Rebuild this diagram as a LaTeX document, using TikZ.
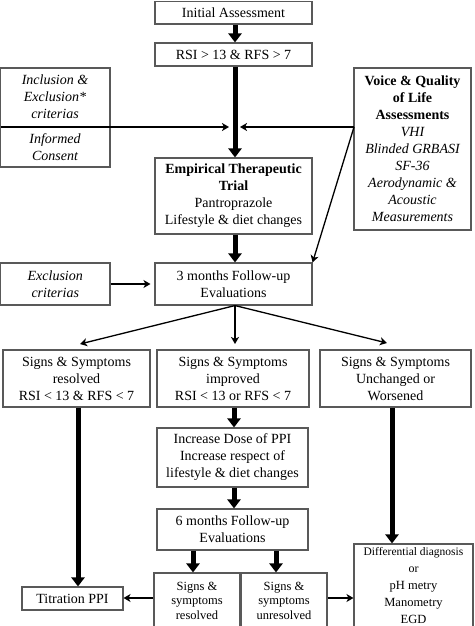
\documentclass[tikz,border=0pt]{standalone}
\usepackage{fontspec}
\setmainfont{Liberation Serif}
\usetikzlibrary{arrows.meta}
\begin{document}
\begin{tikzpicture}[x=1pt,y=-1pt,
  box/.style={draw=black!65, line width=1.1pt, fill=white, inner sep=0pt, align=center,
    font=\fontsize{14}{17}\selectfont},
  txt/.style={inner sep=0pt, align=center, font=\fontsize{14}{17}\selectfont},
  small/.style={font=\fontsize{12.5}{14.6}\selectfont},
  thick arrow/.style={line width=5pt, -{Triangle[width=13pt,length=9pt]}},
  thin arrow/.style={line width=1.3pt, -{Stealth[width=8pt,length=7pt,inset=2pt]}}]
\useasboundingbox (0,0) rectangle (474,626);
\fill[white] (0,0) rectangle (474,626);
\begin{scope}
\clip (0,0) rectangle (474,626);
% boxes
\node[box, minimum width=157pt, minimum height=22.5pt] (init) at (233.5,12.75) {Initial Assessment};
\node[box, minimum width=157pt, minimum height=23pt] (rsi) at (233.5,54.5) {RSI > 13 \& RFS > 7};
\node[box, minimum width=109.5pt, minimum height=99pt] (incl) at (55.25,117.5) {};
\node[txt] (incltxt) at (55,97) {\itshape Inclusion \&\\\itshape Exclusion*\\\itshape criterias};
\node[txt] (inftxt) at (55,147) {\itshape Informed\\\itshape Consent};
\node[box, minimum width=117pt, minimum height=162pt] (voice) at (412.5,149) {\bfseries Voice \& Quality\\\bfseries of Life\\\bfseries Assessments\\\itshape VHI\\\itshape Blinded GRBASI\\\itshape SF-36\\\itshape Aerodynamic \&\\\itshape Acoustic\\\itshape Measurements};
\node[box, minimum width=157pt, minimum height=76pt] (emp) at (233.5,196) {\bfseries Empirical Therapeutic\\\bfseries Trial\\Pantroprazole\\Lifestyle \& diet changes};
\node[box, minimum width=157pt, minimum height=42pt] (three) at (233.5,284) {3 months Follow-up\\Evaluations};
\node[box, minimum width=109.5pt, minimum height=42pt] (excl) at (55.25,284) {\itshape Exclusion\\\itshape criterias};
\node[box, minimum width=147pt, minimum height=57pt] (res) at (76.5,378.5) {Signs \& Symptoms\\resolved\\RSI < 13 \& RFS < 7};
\node[box, minimum width=152pt, minimum height=57pt] (imp) at (233,378.5) {Signs \& Symptoms\\improved\\RSI < 13 or RFS < 7};
\node[box, minimum width=151pt, minimum height=57pt] (unch) at (395.5,378.5) {Signs \& Symptoms\\Unchanged or\\Worsened};
\node[box, minimum width=151pt, minimum height=59pt] (inc) at (232.5,457.5) {Increase Dose of PPI\\Increase respect of\\lifestyle \& diet changes};
\node[box, minimum width=151pt, minimum height=41pt] (six) at (232.5,529.5) {6 months Follow-up\\Evaluations};
\node[box, small, minimum width=86pt, minimum height=55pt] (res2) at (197,600.5) {Signs \&\\symptoms\\resolved};
\node[box, small, minimum width=86pt, minimum height=55pt] (unres) at (284,600.5) {Signs \&\\symptoms\\unresolved};
\node[box, minimum width=119pt, minimum height=84pt] (diff) at (413.5,586) {{\fontsize{11.5}{14.6}\selectfont Differential diagnosis}\\{\fontsize{12}{14.6}\selectfont or}\\{\fontsize{12.5}{14.6}\selectfont pH metry}\\{\fontsize{12.5}{14.6}\selectfont Manometry}\\{\fontsize{12.5}{14.6}\selectfont EGD}};
\node[box, minimum width=101pt, minimum height=23pt] (titr) at (72.5,598.5) {Titration PPI};
% coordinates
\coordinate (inclsplit) at (0.6,127);
\coordinate (mergeL) at (229,127);
\coordinate (vsplit) at (354,127);
\coordinate (mergeR) at (240,127);
\coordinate (tres) at (80,344);
\coordinate (timp) at (235,344);
\coordinate (tunch) at (387,343);
% connectors
\draw[thick arrow] (init.south -| 235,0) -- (rsi.north -| 235,0);
\draw[thick arrow] (rsi.south -| 235,0) -- (emp.north -| 235,0);
\draw[thick arrow] (emp.south -| 235,0) -- (three.north -| 235,0);
\draw[line width=1.3pt] (inclsplit) -- (incl.east |- inclsplit);
\draw[thin arrow] (incl.east |- inclsplit) -- (mergeL);
\draw[thin arrow] (vsplit) -- (mergeR);
\draw[thin arrow] (vsplit) -- (three.north east);
\draw[thin arrow, shorten >=4pt] (excl) -- (three);
\draw[thin arrow] (three.south -| 235,0) -- (tres);
\draw[thin arrow] (three.south -| 235,0) -- (timp);
\draw[thin arrow] (three.south -| 235,0) -- (tunch);
\draw[thick arrow] (res.south -| 78,0) -- (titr.north -| 78,0);
\draw[thick arrow] (imp.south -| 234,0) -- (inc.north -| 234,0);
\draw[thick arrow] (inc.south -| 234,0) -- (six.north -| 234,0);
\draw[thick arrow] (six.south -| 193,0) -- (res2.north -| 193,0);
\draw[thick arrow] (six.south -| 276,0) -- (unres.north -| 276,0);
\draw[thick arrow] (unch.south -| 392,0) -- (diff.north -| 392,0);
\draw[thin arrow] (res2.west |- 0,598) -- (titr.east |- 0,598);
\draw[thin arrow] (unres.east |- 0,598) -- (diff.west |- 0,598);
\end{scope}
\end{tikzpicture}
\end{document}
